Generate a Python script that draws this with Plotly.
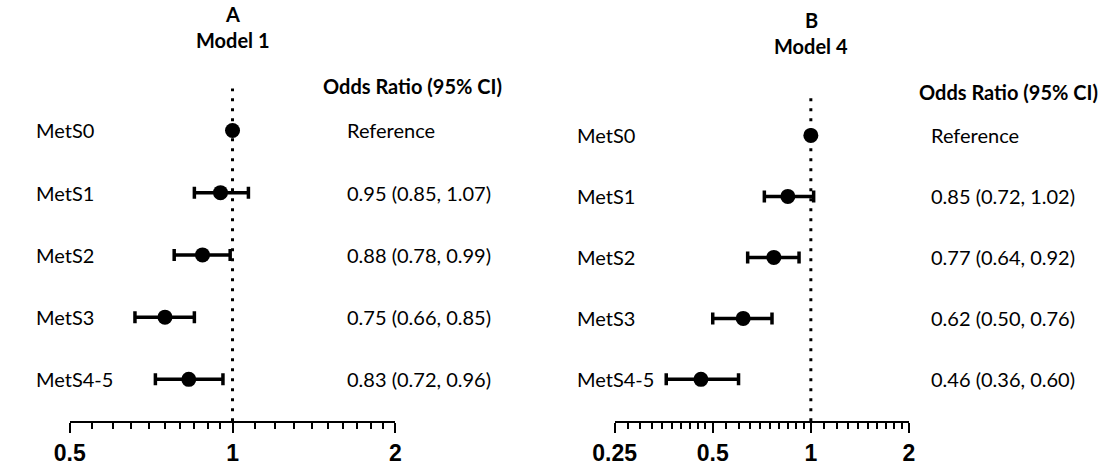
import numpy as np
import plotly.graph_objects as go

W, H = 1106, 466

categories = ["MetS0", "MetS1", "MetS2", "MetS3", "MetS4-5"]

# Panel A: Model 1
or_a = [1.00, 0.95, 0.88, 0.75, 0.83]
lo_a = [None, 0.85, 0.78, 0.66, 0.72]
hi_a = [None, 1.07, 0.99, 0.85, 0.96]
txt_a = ["Reference", "0.95 (0.85, 1.07)", "0.88 (0.78, 0.99)",
         "0.75 (0.66, 0.85)", "0.83 (0.72, 0.96)"]

# Panel B: Model 4
or_b = [1.00, 0.85, 0.77, 0.62, 0.46]
lo_b = [None, 0.72, 0.64, 0.50, 0.36]
hi_b = [None, 1.02, 0.92, 0.76, 0.60]
txt_b = ["Reference", "0.85 (0.72, 1.02)", "0.77 (0.64, 0.92)",
         "0.62 (0.50, 0.76)", "0.46 (0.36, 0.60)"]

ticks_a = [0.5, 1, 2]
ticks_b = [0.25, 0.5, 1, 2]
minor_a = [0.55, 0.6, 0.65, 0.7, 0.75, 0.8, 0.85, 0.9, 0.95,
           1.1, 1.2, 1.3, 1.4, 1.5, 1.6, 1.7, 1.8, 1.9]
minor_b = [0.275, 0.3, 0.325, 0.35, 0.375, 0.4, 0.425, 0.45, 0.475,
           0.55, 0.6, 0.65, 0.7, 0.75, 0.8, 0.85, 0.9, 0.95,
           1.1, 1.2, 1.3, 1.4, 1.5, 1.6, 1.7, 1.8, 1.9]

TXT_FONT = "Lato"
idx = list(range(len(categories)))


def errs(orv, lo, hi):
    plus = [None if h is None else h - o for o, h in zip(orv, hi)]
    minus = [None if l is None else o - l for o, l in zip(orv, lo)]
    return plus, minus


fig = go.Figure()
for orv, lo, hi, xa, ya in [(or_a, lo_a, hi_a, "x", "y"), (or_b, lo_b, hi_b, "x2", "y2")]:
    plus, minus = errs(orv, lo, hi)
    fig.add_trace(go.Scatter(
        x=orv, y=idx, xaxis=xa, yaxis=ya, mode="markers",
        marker=dict(size=15, color="black"),
        error_x=dict(type="data", symmetric=False, array=plus, arrayminus=minus,
                     color="black", thickness=3.5, width=6),
        showlegend=False, hoverinfo="skip"))

axis_common = dict(type="log", showgrid=False, zeroline=False, showline=True,
                   linecolor="black", linewidth=2, ticks="outside", ticklen=10,
                   tickwidth=2, tickcolor="black",
                   tickfont=dict(family="Liberation Sans", size=23, color="black", weight="bold"))

ybot = 1 - 423 / H
fig.update_layout(
    width=W, height=H, margin=dict(l=0, r=0, t=0, b=0),
    paper_bgcolor="white", plot_bgcolor="white",
    xaxis=dict(domain=[49 / W, 383 / W], range=[np.log10(0.5), np.log10(2)], anchor="y",
               tickvals=ticks_a, ticktext=[str(t) for t in ticks_a],
               minor=dict(tickvals=minor_a, ticks="outside", ticklen=6, tickwidth=2,
                          tickcolor="black", showgrid=False),
               **axis_common),
    xaxis2=dict(domain=[608 / W, 910 / W], range=[np.log10(0.25), np.log10(2)], anchor="y2",
                tickvals=ticks_b, ticktext=[str(t) for t in ticks_b],
                minor=dict(tickvals=minor_b, ticks="outside", ticklen=6, tickwidth=2,
                           tickcolor="black", showgrid=False),
                **axis_common),
    yaxis=dict(domain=[ybot, 1], range=[(423 - 131) / 62.5, -131 / 62.5], visible=False),
    yaxis2=dict(domain=[ybot, 1], range=[(423 - 136) / 61.25, -136 / 61.25], visible=False,
                anchor="x2"),
)

# reference lines at OR = 1
fig.add_shape(type="line", xref="x", yref="paper", x0=1, x1=1, y0=ybot, y1=1 - 89 / H,
              line=dict(color="black", width=3, dash="3px,7px"))
fig.add_shape(type="line", xref="x2", yref="paper", x0=1, x1=1, y0=ybot, y1=1 - 94 / H,
              line=dict(color="black", width=3, dash="3px,7px"))

# category labels and OR texts
for yref, labx, orx, txts in [("y", 12, 331, txt_a), ("y2", 567, 931, txt_b)]:
    for i, (c, t) in enumerate(zip(categories, txts)):
        fig.add_annotation(x=labx / W, xref="paper", y=i, yref=yref, text=c, showarrow=False,
                           xanchor="left", yanchor="middle",
                           font=dict(family=TXT_FONT, size=20, color="black"))
        fig.add_annotation(x=orx / W, xref="paper", y=i, yref=yref, text=t, showarrow=False,
                           xanchor="left", yanchor="middle",
                           font=dict(family=TXT_FONT, size=20, color="black"))

# titles and headers
heads = [("A", 216, 14), ("Model 1", 216, 40), ("B", 810, 20), ("Model 4", 810, 46),
         ("Odds Ratio (95% CI)", 401, 86), ("Odds Ratio (95% CI)", 1012, 92)]
for t, px, py in heads:
    fig.add_annotation(x=px / W, y=1 - py / H, xref="paper", yref="paper", text=t,
                       showarrow=False, xanchor="center", yanchor="middle",
                       font=dict(family=TXT_FONT, size=20, color="black", weight="bold"))

fig.write_html("out.html", config={"displayModeBar": False},
               post_script="document.body.style.margin='0';document.body.style.overflow='hidden';")
